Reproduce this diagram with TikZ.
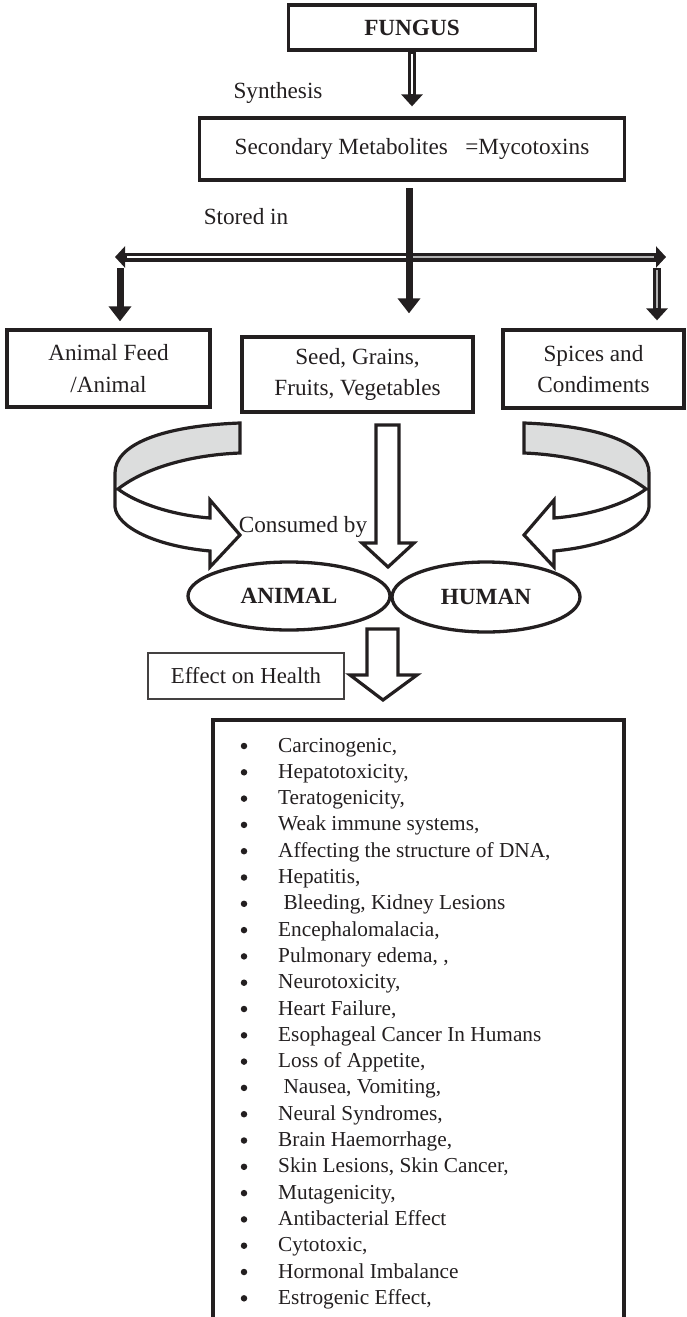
\documentclass[tikz,border=0pt]{standalone}
\usepackage{fontspec}
\setmainfont{Liberation Serif}
\usetikzlibrary{arrows.meta,calc,shapes.geometric}
\definecolor{ink}{HTML}{231F20}
\definecolor{bandgray}{HTML}{DCDDDD}

\begin{document}
\begin{tikzpicture}[x=1pt,y=-1pt,
  every node/.style={text=ink},
  boxtxt/.style={font=\fontsize{23.2}{31.5}\selectfont},
  stepbox/.style={draw=ink, line width=3.3pt, inner sep=0pt, align=center, boxtxt},
  oval/.style={ellipse, draw=ink, line width=3.3pt, inner sep=0pt,
    font=\fontsize{23.2}{28}\selectfont\bfseries},
  caption/.style={inner sep=0pt, boxtxt},
  solidarrow/.style={draw=ink, line width=7pt, -{Triangle[width=22pt,length=15pt]}},
  dblarrow/.style={draw=ink, line width=7.5pt, -{Triangle[width=21pt,length=12pt]}},
  innerline/.style={draw=#1, line width=2pt},
  ribbon/.style={draw=ink, line width=3.2pt, line join=miter},
  blockarrow/.style={draw=ink, line width=3.2pt, line join=miter, fill=white},
  itemtxt/.style={font=\fontsize{21.3}{26}\selectfont, inner sep=0pt, anchor=base west},
  dot/.style={circle, fill=ink, inner sep=0pt, minimum size=6.5pt},
]
\useasboundingbox (0,0) rectangle (686,1317);

% ---- top chain ----
\node[stepbox, minimum width=247pt, minimum height=45pt,
      font=\fontsize{23.2}{28}\selectfont\bfseries] (fungus) at (412,27.5) {FUNGUS};
\node[stepbox, minimum width=425pt, minimum height=62pt] (meta) at (412,149)
      {Secondary Metabolites\ \ \ =Mycotoxins};
\node[caption] (synth) at (278,93) {Synthesis};
\node[caption] (stored) at (246,217) {Stored in};

\draw[dblarrow] (fungus.south) -- ($(meta.north)+(0,-10)$);
\draw[innerline=white] ($(fungus.south)+(0,2)$) -- ($(meta.north)+(0,-22)$);

% ---- distribution bar ----
\coordinate (stem) at (409,188);
\coordinate (split) at (409,257);
\coordinate (hl) at (115,257);
\coordinate (hr) at (666,257);
\coordinate (ltop) at (120,268);
\coordinate (rtop) at (657,268);

\node[stepbox, minimum width=203pt, minimum height=77pt] (feed) at (108.5,368.5)
      {Animal Feed\\/Animal};
\node[stepbox, minimum width=231pt, minimum height=75pt] (seed) at (357.5,374.5)
      {Seed, Grains,\\Fruits, Vegetables};
\node[stepbox, minimum width=181pt, minimum height=78pt] (spice) at (593.5,369)
      {Spices and\\Condiments};

\draw[draw=ink, line width=9pt,
      {Triangle[width=21pt,length=10pt]}-{Triangle[width=21pt,length=10pt]}] (hl) -- (hr);
\draw[innerline=white] ($(hl)+(12,0)$) -- (split);
\draw[innerline=gray!60, line width=1.5pt] (split) -- ($(hr)+(-12,0)$);

\draw[solidarrow] (stem) -- ($(seed.north -| stem)+(0,-22)$);
\draw[solidarrow] (ltop) -- ($(feed.north -| ltop)+(0,-7)$);
\draw[dblarrow] (rtop) -- ($(spice.north -| rtop)+(0,-8)$);
\draw[innerline=gray!60, line width=1.5pt] ($(rtop)+(0,2)$) -- ($(spice.north -| rtop)+(0,-20)$);

% ---- curved ribbon arrows ----
\foreach \sx/\dx in {1/0, -1/764} {
  \begin{scope}[shift={(\dx,0)}, xscale=\sx]
    \fill[bandgray] (240,423) .. controls (160,426) and (115,445) .. (115,473)
      -- (118,489) .. controls (145,468) and (190,455) .. (240,453) -- cycle;
    \draw[ribbon] (240,423) .. controls (160,426) and (115,445) .. (115,473)
      -- (115,507) .. controls (117,527) and (155,546) .. (210,551)
      -- (210,567) -- (240,535) -- (210,500) -- (210,518)
      .. controls (170,515) and (135,502) .. (118,489)
      .. controls (145,468) and (190,455) .. (240,453) -- cycle;
  \end{scope}
}

% ---- consumers ----
\node[oval, minimum width=202pt, minimum height=68pt] (animal) at (289,596)
      {ANIMAL\hspace{18pt}};
\node[oval, minimum width=188pt, minimum height=70pt] (human) at (486,597) {HUMAN};
\node[caption] (consumed) at (303,527) {Consumed by};

\draw[blockarrow] (376,425) -- (399,425) -- (399,543) -- (414,543) -- (388,567)
      -- (362,543) -- (376,543) -- cycle;
\draw[blockarrow] (367,629) -- (398,629) -- (398,675) -- (417,675) -- (383,700)
      -- (350,675) -- (367,675) -- cycle;

\node[draw=ink!85, line width=1.3pt, minimum width=196pt, minimum height=46pt,
      inner sep=0pt, font=\fontsize{22.8}{28}\selectfont] (effect) at (246,676)
      {Effect on Health};

% ---- list of health effects ----
\draw[ink, line width=3.8pt] (213,1330) -- (213,720) -- (624,720) -- (624,1330);

\foreach \t [count=\i from 0] in {
  {Carcinogenic,}, {Hepatotoxicity,}, {Teratogenicity,}, {Weak immune systems,},
  {Affecting the structure of DNA,}, {Hepatitis,}, {\ Bleeding, Kidney Lesions},
  {Encephalomalacia,}, {Pulmonary edema, ,}, {Neurotoxicity,}, {Heart Failure,},
  {Esophageal Cancer In Humans}, {Loss of Appetite,}, {\ Nausea, Vomiting,},
  {Neural Syndromes,}, {Brain Haemorrhage,}, {Skin Lesions, Skin Cancer,},
  {Mutagenicity,}, {Antibacterial Effect}, {Cytotoxic,}, {Hormonal Imbalance},
  {Estrogenic Effect,}} {
  \node[dot] (dot\i) at (244,746+\i*26.3) {};
  \node[itemtxt] (item\i) at (278,752+\i*26.3) {\t};
}
\end{tikzpicture}
\end{document}
